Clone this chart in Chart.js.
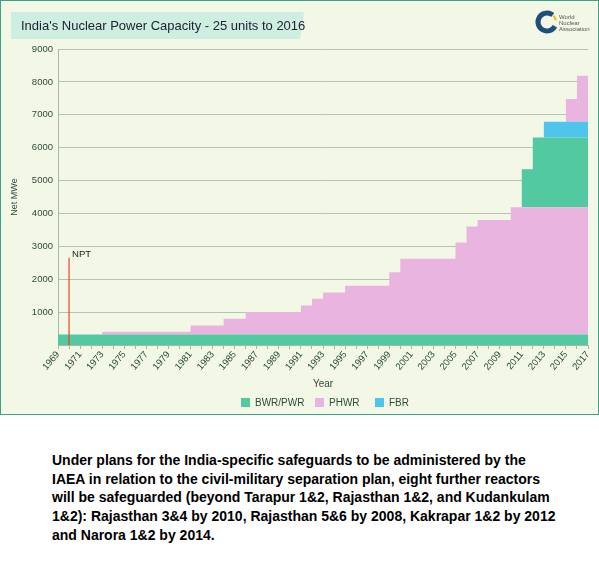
<!DOCTYPE html>
<html><head><meta charset="utf-8">
<script src="https://cdn.jsdelivr.net/npm/chart.js@4"></script>
<style>
body{margin:0;background:#fff;width:599px;height:571px;overflow:hidden;font-family:"Liberation Sans",Arial,sans-serif}
#wrap{position:absolute;left:0;top:0;width:597px;height:413px;border:1px solid #3aa38a;background:#f3f8e6}
#note{position:absolute;left:52px;top:451px;width:510px;font-weight:bold;font-size:14px;line-height:18.7px;color:#000}
</style></head><body>
<div id="wrap"><canvas id="c" width="597" height="413"></canvas></div>
<div id="note">Under plans for the India-specific safeguards to be administered by the IAEA in relation to the civil-military separation plan, eight further reactors will be safeguarded (beyond Tarapur 1&amp;2, Rajasthan 1&amp;2, and Kudankulam 1&amp;2): Rajasthan 3&amp;4 by 2010, Rajasthan 5&amp;6 by 2008, Kakrapar 1&amp;2 by 2012 and Narora 1&amp;2 by 2014.</div>
<script>
const years = [];
for (let y = 1969; y <= 2017; y++) years.push(y);
const bwrBase = [320,320,320,320,320,320,320,320,320,320,320,320,320,320,320,320,320,320,320,320,320,320,320,320,320,320,320,320,320,320,320,320,320,320,320,320,320,320,320,320,320,320,320,320,320,320,320,320,320];
const phwr = [0,0,0,0,80,80,80,80,80,80,80,80,270,270,270,480,480,680,680,680,680,680,880,1090,1280,1280,1480,1480,1480,1480,1890,2300,2300,2300,2300,2300,2800,3280,3480,3480,3480,3870,3870,3870,3870,3870,3870,3870,3870];
const bwrKK = [0,0,0,0,0,0,0,0,0,0,0,0,0,0,0,0,0,0,0,0,0,0,0,0,0,0,0,0,0,0,0,0,0,0,0,0,0,0,0,0,0,0,1150,2120,2120,2120,2120,2120,2120];
const fbr = [0,0,0,0,0,0,0,0,0,0,0,0,0,0,0,0,0,0,0,0,0,0,0,0,0,0,0,0,0,0,0,0,0,0,0,0,0,0,0,0,0,0,0,0,480,480,480,480,480];
const phwrTop = [0,0,0,0,0,0,0,0,0,0,0,0,0,0,0,0,0,0,0,0,0,0,0,0,0,0,0,0,0,0,0,0,0,0,0,0,0,0,0,0,0,0,0,0,0,0,690,1400,1400];
const yTicks = [1000,2000,3000,4000,5000,6000,7000,8000,9000];
const nptYear = 1970, nptTop = 2650;

const GREEN='#52c9a0', PINK='#e9b5e0', BLUE='#4fc4ec';
const pts = a => a.map((v,i)=>({x:years[i],y:v}));
const ds = (label,a,col,fill)=>({label,data:pts(a),backgroundColor:col,borderColor:col,borderWidth:0,pointRadius:0,stepped:true,fill});

const deco = {
  id:'deco',
  beforeDraw(ch){
    const c=ch.ctx;
    c.save();
    c.fillStyle='#cdeee0';
    c.beginPath();c.moveTo(10,11);c.lineTo(303,11);c.lineTo(299,38);c.lineTo(10,38);c.closePath();c.fill();
    c.fillStyle='#223';c.font='13px "Liberation Sans",Arial';c.textBaseline='middle';
    c.fillText("India's Nuclear Power Capacity - 25 units to 2016",20,25);
    c.lineWidth=5;c.strokeStyle='#1d4f7a';c.beginPath();c.arc(546,21,9,0.5,5.4);c.stroke();
    c.strokeStyle='#f2b700';c.lineWidth=2;c.beginPath();c.arc(546,21,9,5.5,6.1);c.stroke();
    c.fillStyle='#555';c.font='6px "Liberation Sans"';c.textBaseline='alphabetic';
    c.fillText('World',558,18);c.fillText('Nuclear',558,24);c.fillText('Association',558,30);
    c.restore();
  },
  afterDatasetsDraw(ch){
    const c=ch.ctx,x=ch.scales.x,y=ch.scales.y;
    c.save();
    const px=x.getPixelForValue(nptYear);
    c.strokeStyle='#e8432c';c.lineWidth=1.2;
    c.beginPath();c.moveTo(px,y.getPixelForValue(0));c.lineTo(px,y.getPixelForValue(nptTop));c.stroke();
    c.fillStyle='#222';c.font='9.5px "Liberation Sans"';c.textBaseline='middle';
    c.fillText('NPT',px+3,y.getPixelForValue(nptTop)-3);
    c.fillStyle='#2d4a3a';c.font='10px "Liberation Sans"';c.textAlign='center';
    c.fillText('Year',322,383);
    const leg=[['BWR/PWR',GREEN,240],['PHWR',PINK,314],['FBR',BLUE,374]];
    c.textAlign='left';
    leg.forEach(([t,col,lx])=>{c.fillStyle=col;c.fillRect(lx,397,9,9);c.fillStyle='#2d4a3a';c.fillText(t,lx+14,402);});
    c.save();c.translate(14,196);c.rotate(-Math.PI/2);c.textAlign='center';c.font='9px "Liberation Sans"';c.fillText('Net MWe',0,0);c.restore();
    c.restore();
  }
};

new Chart(document.getElementById('c'),{
  type:'line',
  data:{datasets:[
    ds('BWR/PWR',bwrBase,GREEN,'origin'),
    ds('PHWR',phwr,PINK,'-1'),
    ds('BWR/PWR 2',bwrKK,GREEN,'-1'),
    ds('FBR',fbr,BLUE,'-1'),
    ds('PHWR 2',phwrTop,PINK,'-1')
  ]},
  options:{
    responsive:false,animation:false,
    layout:{padding:{top:48,right:10,left:0,bottom:0}},
    plugins:{legend:{display:false},tooltip:{enabled:false}},
    elements:{line:{tension:0}},
    scales:{
      x:{type:'linear',min:1969,max:2017,
        afterFit(s){s.height=69;},
        grid:{display:true,drawOnChartArea:false,drawTicks:true,tickLength:4,color:'#a9b7a9'},
        border:{color:'#a9b7a9'},
        ticks:{stepSize:1,autoSkip:false,maxRotation:50,minRotation:50,color:'#2d4a3a',font:{size:9.5},padding:0,
          callback:v=>((v-1969)%2===0?String(v):'')}},
      y:{stacked:true,min:0,max:9000,
        afterFit(s){s.width=57;},
        afterBuildTicks(s){s.ticks=[0].concat(yTicks).map(v=>({value:v}));},
        grid:{color:'#b5c5b0',drawTicks:false},
        border:{color:'#a9b7a9'},
        ticks:{color:'#2d4a3a',font:{size:9.5},padding:5,callback:v=>v===0?'':String(v)}}
    }
  },
  plugins:[deco]
});
</script></body></html>
